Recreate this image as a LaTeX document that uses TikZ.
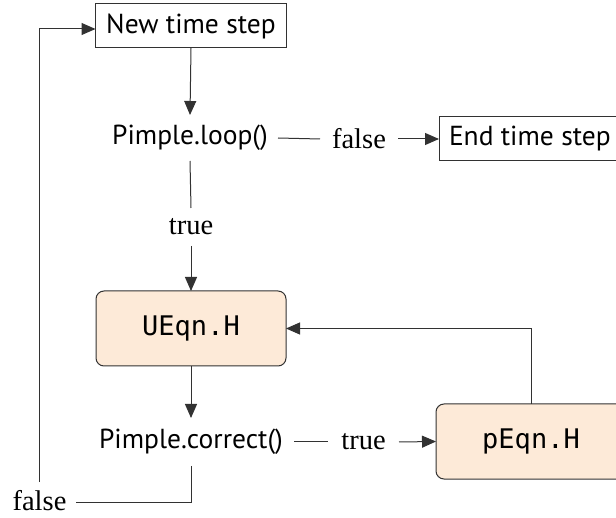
\documentclass[tikz,border=0pt]{standalone}
\usepackage{fontspec}
\usetikzlibrary{arrows.meta,positioning}
\newfontfamily\labelsans{PT Sans}
\newfontfamily\labelserif{Liberation Serif}
\newfontfamily\codemono{DejaVu Sans Mono}
\definecolor{peach}{RGB}{253,234,216}
\definecolor{edge}{RGB}{50,50,50}
\tikzset{
  x=1pt, y=-1pt,
  every node/.style={inner sep=0pt, outer sep=0pt},
  line/.style={draw=edge, line width=1pt},
  arrowline/.style={line, -{Triangle[length=14pt,width=12pt]}},
  stepbox/.style={draw=edge, line width=1pt, minimum height=44pt,
    inner xsep=10pt, font=\labelsans\fontsize{27.5}{31}\selectfont},
  codebox/.style={draw=edge, line width=1pt, fill=peach, rounded corners=8pt,
    minimum width=190pt, minimum height=75pt,
    font=\codemono\fontsize{27}{31}\selectfont},
  calltext/.style={font=\labelsans\fontsize{27.5}{31}\selectfont},
  condtext/.style={font=\labelserif\fontsize{28.5}{32}\selectfont},
}
\begin{document}
\begin{tikzpicture}
\path[use as bounding box, clip] (0,0) rectangle (616,518);

% boxes
\node[stepbox, minimum width=191pt] (newstep) at (191,26) {New time step};
\node[stepbox, anchor=west] (endstep) at (439,139) {End time step};
\node[codebox] (ueqn) at (191,328.5) {UEqn.H};
\node[codebox] (peqn) at (531,441.5) {pEqn.H};

% decisions and branch labels
\node[calltext, minimum width=176pt, minimum height=46pt] (loop) at (190,138) {Pimple.loop()};
\node[condtext, minimum width=78pt, minimum height=38pt] (loopfalse) at (359,139) {false};
\node[condtext, minimum height=38pt] (looptrue) at (191,227) {true};
\node[calltext, minimum width=206pt, minimum height=48pt] (correct) at (191,442) {Pimple.correct()};
\node[condtext, minimum width=71pt, minimum height=38pt] (correcttrue) at (363.5,442) {true};
\node[condtext, minimum width=73pt, minimum height=38pt] (correctfalse) at (39.5,501) {false};
\coordinate (corner) at (191,502);

% connectors
\draw[arrowline] (newstep.south) -- (loop.north);
\draw[line] (loop.east) -- (loopfalse.west);
\draw[arrowline] (loopfalse.east) -- (endstep.west);
\draw[line] (loop.south) -- (looptrue.north);
\draw[arrowline] (looptrue.south) -- (ueqn.north);
\draw[arrowline] (ueqn.south) -- (correct.north);
\draw[line] (correct.east) -- (correcttrue.west);
\draw[arrowline] (correcttrue.east) -- (peqn.west);
\draw[arrowline] (peqn.north) |- (ueqn.east);
\draw[line] (correct.south) -- (corner) -- (correctfalse.east |- corner);
\draw[arrowline] (correctfalse.north) |- ([yshift=-3pt]newstep.west);
\end{tikzpicture}
\end{document}
